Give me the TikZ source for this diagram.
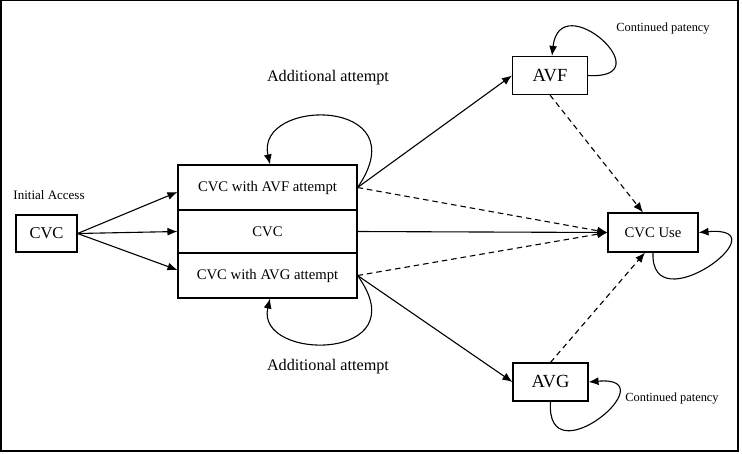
\documentclass[tikz,border=0pt]{standalone}
\usepackage{fontspec}
\setmainfont{Liberation Serif}
\usetikzlibrary{arrows.meta}

\begin{document}
\begin{tikzpicture}[x=1pt,y=-1pt,>={Latex[length=10pt,width=8pt]},line width=1.1pt]
\tikzstyle{state}=[draw,rectangle,inner sep=0pt,font=\fontsize{14.7}{16}\selectfont]
\tikzstyle{access}=[state,minimum width=75pt,minimum height=38pt,font=\fontsize{18.5}{20}\selectfont]
\tikzstyle{part}=[state,minimum width=179pt]
\tikzstyle{note}=[inner sep=0pt,font=\fontsize{12.4}{14}\selectfont]
\tikzstyle{flow}=[->]
\tikzstyle{drop}=[->,dashed,dash pattern=on 5.5pt off 4pt]
\useasboundingbox (0,0) rectangle (742,453);
\draw[line width=1.3pt] (1,0.7) rectangle (738,451);

% states
\node[state,minimum width=61pt,minimum height=37pt,font=\fontsize{16.5}{18}\selectfont] (init) at (46.5,233.5) {CVC};
\node[note,font=\fontsize{13}{15}\selectfont] (initlbl) at (49,195) {Initial Access};
\node[part,minimum height=45pt] (attf) at (267.5,187.5) {CVC with AVF attempt};
\node[part,minimum height=43pt] (cvcmid) at (267.5,231.5) {CVC};
\node[part,minimum height=45pt] (attg) at (267.5,275.5) {CVC with AVG attempt};
\node[access] (avf) at (550,75.5) {AVF};
\node[access] (avg) at (550.5,382) {AVG};
\node[state,minimum width=90pt,minimum height=39pt] (cvcuse) at (653,232.5) {CVC Use};

% labels
\node[note,font=\fontsize{16.2}{18}\selectfont] (addf) at (328,78) {Additional attempt};
\node[note,font=\fontsize{16.2}{18}\selectfont] (addg) at (328,367) {Additional attempt};
\node[note] (patf) at (663,29) {Continued patency};
\node[note] (patg) at (672,399) {Continued patency};

% transitions
\draw[flow] (init.east) -- ([yshift=-4.5pt]attf.west);
\draw[flow] (init.east) -- (cvcmid.west);
\draw[flow] (init.east) -- ([yshift=5.5pt]attg.west);
\draw[flow] (attf.east) -- (avf.west);
\draw[flow] (attg.east) -- (avg.west);
\draw[flow] (cvcmid.east) -- (cvcuse.west);
\draw[drop] (attf.east) -- (cvcuse.west);
\draw[drop] (attg.east) -- (cvcuse.west);
\draw[drop] (avf.south) -- ([xshift=-10pt]cvcuse.north);
\draw[drop] (avg.north) -- ([xshift=-8pt]cvcuse.south);

% loops
\draw[flow] (attf.east) .. controls (420,97) and (255,97) .. ([xshift=2.5pt]attf.north);
\draw[flow] (attg.east) .. controls (420,362) and (255,362) .. ([xshift=2.5pt]attg.south);
\draw[flow] (avf.east) .. controls (665,80) and (560,-15) .. ([xshift=2pt]avf.north);
\draw[flow] (avg.south) .. controls (545,480) and (670,375) .. (avg.east);
\draw[flow] (cvcuse.south) .. controls (650,325) and (785,225) .. (cvcuse.east);
\end{tikzpicture}
\end{document}
